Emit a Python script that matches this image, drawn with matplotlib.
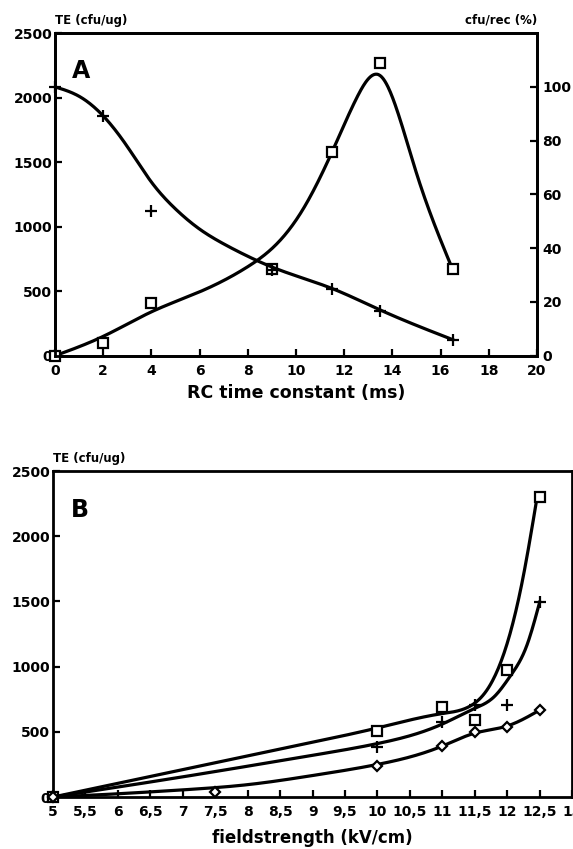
import matplotlib
matplotlib.use('Agg')
import matplotlib.pyplot as plt
import numpy as np

plt.rcParams['font.family'] = ['DejaVu Sans']
plt.rcParams['font.weight'] = 'bold'

# ---- panel A data: RC time constant ----
a_x_te = [0, 2, 4, 9, 11.5, 13.5, 16.5]
a_te = [0, 100, 410, 670, 1580, 2270, 670]
a_x_rec = [0, 2, 4, 9, 11.5, 13.5, 16.5]
a_rec = [100, 89, 54, 32, 25, 16.7, 6]

# fitted curves as drawn in the figure
a_fit_te_x = [0, 2, 4, 6, 8, 9, 10.2, 11.5, 12.5, 13.5, 14.2, 15, 16.5]
a_fit_te_y = [0, 150, 340, 495, 690, 830, 1107, 1580, 1990, 2170, 1900, 1416, 670]
a_fit_rec_x = [0, 1, 2, 3, 4, 5, 6, 7, 8, 9, 11.5, 13.5, 16.5]
a_fit_rec_y = [100, 96.5, 89.2, 77.8, 64.6, 54.6, 47.1, 41.6, 37, 33, 25, 17, 6]

# ---- panel B data: field strength ----
b_x = [5, 10, 11, 11.5, 12, 12.5]
b_sq = [0, 505, 690, 590, 975, 2300]
b_plus = [0, 383, 575, 705, 705, 1495]
b_x_dia = [5, 7.5, 10, 11, 11.5, 12, 12.5]
b_dia = [0, 38, 238, 391, 498, 537, 667]

b_fit_sq_x = [5, 7, 9, 10, 11, 11.4, 11.7, 12, 12.25, 12.46]
b_fit_sq_y = [0, 210, 420, 530, 640, 690, 830, 1180, 1700, 2300]
b_fit_plus_x = [5, 7, 9, 10, 11, 11.5, 11.8, 12.05, 12.3, 12.5]
b_fit_plus_y = [0, 155, 320, 410, 560, 680, 770, 930, 1160, 1495]
b_fit_dia_x = [5, 6, 7, 8, 9, 10, 11, 11.5, 12, 12.5]
b_fit_dia_y = [0, 25, 55, 95, 165, 250, 391, 490, 545, 667]

b_ticks = [5 + 0.5 * i for i in range(17)]
b_ticklabels = [('%g' % t).replace('.', ',') for t in b_ticks]


def spline(xs, ys, n=500):
    # natural cubic spline through the given points
    x = np.asarray(xs, float)
    y = np.asarray(ys, float)
    k = len(x)
    h = np.diff(x)
    A = np.zeros((k, k))
    r = np.zeros(k)
    A[0, 0] = A[-1, -1] = 1
    for i in range(1, k - 1):
        A[i, i - 1] = h[i - 1]
        A[i, i] = 2 * (h[i - 1] + h[i])
        A[i, i + 1] = h[i]
        r[i] = 6 * ((y[i + 1] - y[i]) / h[i] - (y[i] - y[i - 1]) / h[i - 1])
    M = np.linalg.solve(A, r)
    xx = np.linspace(x[0], x[-1], n)
    j = np.clip(np.searchsorted(x, xx) - 1, 0, k - 2)
    a = x[j + 1] - xx
    b = xx - x[j]
    hj = h[j]
    yy = (M[j] * a**3 + M[j + 1] * b**3) / (6 * hj) \
        + (y[j] / hj - M[j] * hj / 6) * a + (y[j + 1] / hj - M[j + 1] * hj / 6) * b
    return xx, yy


def style(ax):
    for s in ax.spines.values():
        s.set_linewidth(2)
    ax.tick_params(direction='in', length=5, width=1.6, labelsize=10, pad=6)


fig = plt.figure(figsize=(5.73, 8.49), dpi=100)
lw = 2.3
mk = dict(color='black', linestyle='none', clip_on=False, zorder=5)

# ---- A ----
ax1 = fig.add_axes([0.096, 0.581, 0.841, 0.380])
ax2 = ax1.twinx()
ax1.plot(*spline(a_fit_te_x, a_fit_te_y), color='black', lw=lw)
ax1.plot(a_x_te, a_te, marker='s', ms=6.5, mfc='white', mew=1.6, **mk)
ax2.plot(*spline(a_fit_rec_x, a_fit_rec_y), color='black', lw=lw)
ax2.plot(a_x_rec, a_rec, marker='+', ms=9, mew=1.6, **mk)
ax1.set_xlim(0, 20)
ax1.set_ylim(0, 2500)
ax2.set_ylim(0, 120)
ax1.set_xticks(range(0, 21, 2))
ax1.set_yticks(range(0, 2501, 500))
ax2.set_yticks(range(0, 101, 20))
style(ax1)
style(ax2)
ax1.tick_params(axis='y', pad=2)
ax2.tick_params(axis='y', pad=4)
ax1.set_xlabel('RC time constant (ms)', fontsize=12.5, fontweight='bold', labelpad=4)
ax1.text(0.0, 1.02, 'TE (cfu/ug)', transform=ax1.transAxes, fontsize=8.5,
         fontweight='bold', ha='left', va='bottom')
ax1.text(1.0, 1.02, 'cfu/rec (%)', transform=ax1.transAxes, fontsize=8.5,
         fontweight='bold', ha='right', va='bottom')
ax1.text(0.035, 0.86, 'A', transform=ax1.transAxes, fontsize=17, fontweight='bold')

# ---- B ----
ax3 = fig.add_axes([0.0925, 0.0612, 0.906, 0.384])
for fx, fy in [(b_fit_sq_x, b_fit_sq_y), (b_fit_plus_x, b_fit_plus_y), (b_fit_dia_x, b_fit_dia_y)]:
    ax3.plot(*spline(fx, fy), color='black', lw=lw)
ax3.plot(b_x, b_sq, marker='s', ms=6.5, mfc='white', mew=1.6, **mk)
ax3.plot(b_x, b_plus, marker='+', ms=9, mew=1.6, **mk)
ax3.plot(b_x_dia, b_dia, marker='D', ms=5, mfc='white', mew=1.6, **mk)
ax3.set_xlim(5, 13)
ax3.set_ylim(0, 2500)
ax3.set_xticks(b_ticks)
ax3.set_xticklabels(b_ticklabels)
ax3.set_yticks(range(0, 2501, 500))
style(ax3)
ax3.tick_params(axis='y', pad=2)
ax3.set_xlabel('fieldstrength (kV/cm)', fontsize=12, fontweight='bold', labelpad=7)
ax3.text(0.0, 1.02, 'TE (cfu/ug)', transform=ax3.transAxes, fontsize=8.5,
         fontweight='bold', ha='left', va='bottom')
ax3.text(0.035, 0.86, 'B', transform=ax3.transAxes, fontsize=17, fontweight='bold')

fig.savefig('out.png', dpi=100)
